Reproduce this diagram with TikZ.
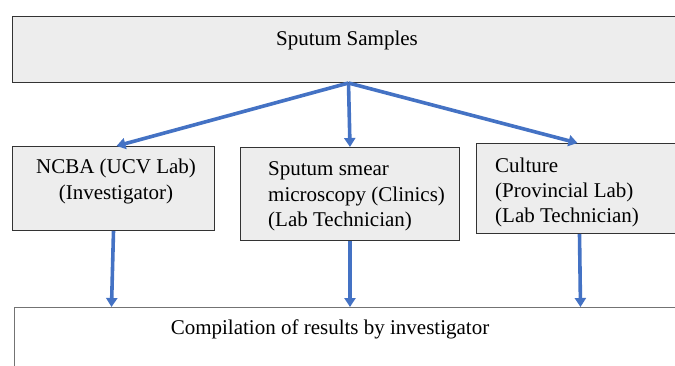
\documentclass[tikz,border=0pt]{standalone}
\usepackage{fontspec}
\setmainfont{Liberation Serif}
\usetikzlibrary{arrows.meta}
\definecolor{boxfill}{HTML}{EDEDED}
\definecolor{boxline}{HTML}{333333}
\definecolor{arrowblue}{HTML}{4472C4}
\begin{document}
\begin{tikzpicture}[x=1pt,y=-1pt,
  graybox/.style={draw=boxline, fill=boxfill, line width=1pt, inner sep=0pt, anchor=north west},
  whitebox/.style={draw=black!55, line width=1pt, inner sep=0pt, anchor=north west},
  txt/.style={inner sep=0pt, font=\fontsize{21}{26}\selectfont},
  flow/.style={draw=arrowblue, line width=3.6pt, -{Triangle[length=9pt,width=11pt]}}]
\useasboundingbox (0,0) rectangle (675,365);
\path[fill=white] (0,0) rectangle (675,365);
% boxes
\node[graybox, minimum width=672pt, minimum height=66pt] (top) at (12,16) {};
\node[graybox, minimum width=202pt, minimum height=84pt] (ncba) at (12,146) {};
\node[graybox, minimum width=219pt, minimum height=93pt] (smear) at (240,147) {};
\node[graybox, minimum width=202pt, minimum height=90pt] (cult) at (476,143) {};
\node[whitebox, minimum width=670pt, minimum height=70pt] (res) at (14,307) {};
% texts
\node[txt, anchor=base] (t0) at (347,45) {Sputum Samples};
\node[txt, anchor=base] (t1a) at (116,173) {NCBA (UCV Lab)};
\node[txt, anchor=base] (t1b) at (116,199) {(Investigator)};
\node[txt, anchor=base west] (t2a) at (268,175) {Sputum smear};
\node[txt, anchor=base west] (t2b) at (268,201) {microscopy (Clinics)};
\node[txt, anchor=base west] (t2c) at (268,226) {(Lab Technician)};
\node[txt, anchor=base west] (t3a) at (495,172) {Culture};
\node[txt, anchor=base west] (t3b) at (495,197) {(Provincial Lab)};
\node[txt, anchor=base west] (t3c) at (495,222) {(Lab Technician)};
\node[txt, anchor=base] (t4) at (330,334) {Compilation of results by investigator};
% connectors
\draw[flow] (top.south) -- ([xshift=3pt]ncba.north);
\draw[flow] (top.south) -- (smear.north);
\draw[flow] (top.south) -- (cult.north);
\draw[flow] (ncba.south) -- ([xshift=-2pt]ncba.south |- res.north);
\draw[flow] (smear.south) -- (smear.south |- res.north);
\draw[flow] ([xshift=2pt]cult.south) -- ([xshift=3pt]cult.south |- res.north);
\end{tikzpicture}
\end{document}
